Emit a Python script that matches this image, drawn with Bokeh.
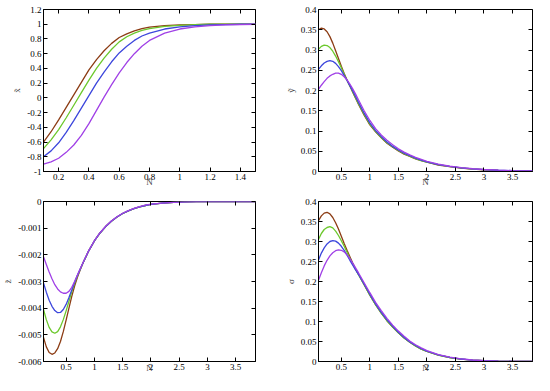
from bokeh.plotting import figure
from bokeh.layouts import gridplot
from bokeh.models import FixedTicker, CustomJSTickFormatter, Range1d, LinearAxis
from bokeh.embed import file_html
from bokeh.resources import INLINE

# ---------------- data ----------------
SERIES_COLORS = ["#8c3c14", "#6cc82c", "#3c46dc", "#a040e6"]

# panel 1 : x~ vs N~
X1 = [0.10, 0.15, 0.20, 0.25, 0.30, 0.35, 0.40, 0.45, 0.50, 0.55, 0.60, 0.65,
      0.70, 0.75, 0.80, 0.90, 1.00, 1.10, 1.20, 1.30, 1.40, 1.50]
X1_A = [-0.60, -0.46, -0.30, -0.13, 0.04, 0.21, 0.38, 0.52, 0.64, 0.74, 0.82, 0.87,
        0.91, 0.94, 0.96, 0.98, 0.99, 0.995, 1.0, 1.0, 1.0, 1.0]
X1_B = [-0.69, -0.57, -0.43, -0.27, -0.10, 0.07, 0.24, 0.40, 0.54, 0.66, 0.76, 0.83,
        0.88, 0.915, 0.94, 0.97, 0.985, 0.995, 1.0, 1.0, 1.0, 1.0]
X1_C = [-0.80, -0.72, -0.61, -0.47, -0.31, -0.14, 0.03, 0.20, 0.35, 0.49, 0.61, 0.70,
        0.78, 0.84, 0.88, 0.935, 0.965, 0.98, 0.99, 0.995, 1.0, 1.0]
X1_D = [-0.90, -0.87, -0.82, -0.74, -0.64, -0.51, -0.35, -0.17, 0.01, 0.18, 0.34, 0.48,
        0.60, 0.70, 0.78, 0.88, 0.935, 0.965, 0.98, 0.99, 0.995, 1.0]

# shared N~ grid for panels 2-4
XG = [0.10, 0.15, 0.20, 0.25, 0.30, 0.35, 0.40, 0.45, 0.50, 0.55, 0.60, 0.65, 0.70,
      0.75, 0.80, 0.90, 1.00, 1.10, 1.20, 1.30, 1.40, 1.50, 1.60, 1.70, 1.80, 1.90,
      2.00, 2.20, 2.40, 2.60, 2.80, 3.00, 3.25, 3.50, 3.85]

# panel 2 : y~
Y_A = [0.350, 0.354, 0.352, 0.345, 0.333, 0.317, 0.298, 0.279, 0.260, 0.242, 0.226, 0.211,
       0.196, 0.181, 0.166, 0.139, 0.115, 0.098, 0.083, 0.070, 0.060, 0.051, 0.043, 0.037,
       0.031, 0.027, 0.023, 0.016, 0.012, 0.0085, 0.006, 0.0043, 0.0029, 0.0019, 0.0011]
Y_B = [0.302, 0.309, 0.312, 0.311, 0.306, 0.297, 0.285, 0.271, 0.256, 0.240, 0.225, 0.211,
       0.197, 0.182, 0.168, 0.141, 0.117, 0.099, 0.084, 0.071, 0.061, 0.052, 0.044, 0.038,
       0.032, 0.027, 0.023, 0.017, 0.012, 0.0087, 0.0062, 0.0044, 0.0030, 0.0020, 0.0011]
Y_C = [0.252, 0.261, 0.268, 0.272, 0.274, 0.272, 0.267, 0.259, 0.249, 0.237, 0.225, 0.212,
       0.199, 0.185, 0.171, 0.144, 0.120, 0.101, 0.086, 0.073, 0.062, 0.053, 0.045, 0.039,
       0.033, 0.028, 0.024, 0.017, 0.0125, 0.009, 0.0065, 0.0046, 0.0031, 0.0021, 0.0012]
Y_D = [0.203, 0.213, 0.222, 0.230, 0.236, 0.240, 0.243, 0.243, 0.240, 0.234, 0.226, 0.216,
       0.204, 0.191, 0.177, 0.150, 0.126, 0.106, 0.090, 0.077, 0.066, 0.056, 0.048, 0.041,
       0.035, 0.030, 0.025, 0.018, 0.013, 0.0095, 0.0068, 0.0049, 0.0033, 0.0022, 0.0013]

# panel 3 : z~
Z_A = [-0.00510, -0.00545, -0.00566, -0.00573, -0.00568, -0.00552, -0.00525, -0.00488,
       -0.00445, -0.00400, -0.00356, -0.00317, -0.00284, -0.00256, -0.00230, -0.00185,
       -0.00148, -0.00118, -0.00094, -0.00074, -0.00058, -0.00045, -0.00035, -0.00027,
       -0.00020, -0.00015, -0.00011, -0.00006, -0.00003, -0.000015, -0.000007, -0.000003,
       -0.000001, 0.0, 0.0]
Z_B = [-0.00405, -0.00443, -0.00472, -0.00489, -0.00494, -0.00488, -0.00470, -0.00443,
       -0.00410, -0.00374, -0.00339, -0.00307, -0.00279, -0.00254, -0.00230, -0.00185,
       -0.00148, -0.00118, -0.00094, -0.00074, -0.00058, -0.00045, -0.00035, -0.00027,
       -0.00020, -0.00015, -0.00011, -0.00006, -0.00003, -0.000015, -0.000007, -0.000003,
       -0.000001, 0.0, 0.0]
Z_C = [-0.00305, -0.00340, -0.00370, -0.00393, -0.00409, -0.00417, -0.00416, -0.00405,
       -0.00386, -0.00360, -0.00332, -0.00303, -0.00277, -0.00253, -0.00230, -0.00185,
       -0.00148, -0.00118, -0.00094, -0.00074, -0.00058, -0.00045, -0.00035, -0.00027,
       -0.00020, -0.00015, -0.00011, -0.00006, -0.00003, -0.000015, -0.000007, -0.000003,
       -0.000001, 0.0, 0.0]
Z_D = [-0.00207, -0.00236, -0.00264, -0.00290, -0.00312, -0.00328, -0.00339, -0.00344,
       -0.00344, -0.00337, -0.00322, -0.00300, -0.00276, -0.00252, -0.00229, -0.00184,
       -0.00147, -0.00117, -0.00093, -0.00073, -0.00057, -0.00044, -0.00034, -0.00026,
       -0.00019, -0.00014, -0.00010, -0.00006, -0.00003, -0.000015, -0.000007, -0.000003,
       -0.000001, 0.0, 0.0]

# panel 4 : sigma
S_A = [0.352, 0.364, 0.371, 0.373, 0.369, 0.360, 0.347, 0.331, 0.313, 0.295, 0.278, 0.262,
       0.246, 0.231, 0.218, 0.192, 0.166, 0.142, 0.121, 0.102, 0.086, 0.072, 0.059, 0.048,
       0.039, 0.031, 0.025, 0.016, 0.010, 0.006, 0.0035, 0.002, 0.001, 0.0004, 0.0001]
S_B = [0.305, 0.320, 0.330, 0.335, 0.337, 0.334, 0.326, 0.315, 0.302, 0.288, 0.273, 0.258,
       0.244, 0.230, 0.217, 0.192, 0.166, 0.142, 0.121, 0.102, 0.086, 0.072, 0.059, 0.048,
       0.039, 0.031, 0.025, 0.016, 0.010, 0.006, 0.0035, 0.002, 0.001, 0.0004, 0.0001]
S_C = [0.254, 0.271, 0.284, 0.294, 0.300, 0.302, 0.301, 0.296, 0.288, 0.278, 0.266, 0.253,
       0.241, 0.229, 0.218, 0.193, 0.168, 0.144, 0.123, 0.104, 0.088, 0.073, 0.060, 0.049,
       0.040, 0.032, 0.026, 0.0165, 0.0103, 0.0062, 0.0036, 0.002, 0.001, 0.0004, 0.0001]
S_D = [0.203, 0.222, 0.239, 0.253, 0.264, 0.272, 0.277, 0.279, 0.278, 0.274, 0.267, 0.257,
       0.246, 0.234, 0.222, 0.197, 0.172, 0.148, 0.127, 0.108, 0.091, 0.076, 0.063, 0.051,
       0.042, 0.034, 0.027, 0.017, 0.0107, 0.0065, 0.0038, 0.0021, 0.001, 0.0004, 0.0001]

# tick positions
X1_TICKS = [0.2, 0.4, 0.6, 0.8, 1.0, 1.2, 1.4]
Y1_TICKS = [-1.0, -0.8, -0.6, -0.4, -0.2, 0.0, 0.2, 0.4, 0.6, 0.8, 1.0, 1.2]
XG_TICKS = [0.5, 1.0, 1.5, 2.0, 2.5, 3.0, 3.5]
YS_TICKS = [0.0, 0.05, 0.1, 0.15, 0.2, 0.25, 0.3, 0.35, 0.4]
Z_TICKS = [-0.006, -0.005, -0.004, -0.003, -0.002, -0.001, 0.0]

X_LABEL = "N\u0303"
Y_LABELS = ["x\u0303", "y\u0303", "z\u0303", "\u03c3"]

FONT = "Liberation Serif"
FMT = "var v = parseFloat(tick.toFixed(4)); return String(v);"


def panel(x, ys, xr, yr, xt, yt, ylabel, width, height, mb, xl_standoff):
    p = figure(width=width, height=height, x_range=Range1d(*xr), y_range=Range1d(*yr),
               output_backend="svg", toolbar_location=None,
               min_border_left=mb[0], min_border_right=mb[1],
               min_border_top=mb[2], min_border_bottom=mb[3])
    for yv, c in zip(ys, SERIES_COLORS):
        p.line(x, yv, line_color=c, line_width=1.3)
    p.xgrid.visible = False
    p.ygrid.visible = False
    p.outline_line_color = "black"
    p.outline_line_width = 1
    p.background_fill_color = "white"
    p.border_fill_color = "white"
    for ax, ticks in ((p.xaxis[0], xt), (p.yaxis[0], yt)):
        ax.ticker = FixedTicker(ticks=ticks)
        ax.formatter = CustomJSTickFormatter(code=FMT)
        ax.major_tick_in = 4
        ax.major_tick_out = 0
        ax.minor_tick_line_color = None
        ax.major_label_text_font = FONT
        ax.major_label_text_font_size = "9px"
        ax.major_label_text_color = "black"
        ax.axis_label_text_font = FONT
        ax.axis_label_text_font_size = "9px"
        ax.axis_label_text_font_style = "normal"
        ax.axis_line_color = "black"
        ax.major_label_standoff = 2
    p.xaxis[0].axis_label = X_LABEL
    p.xaxis[0].axis_label_standoff = xl_standoff
    p.yaxis[0].axis_label = ylabel
    p.yaxis[0].axis_label_standoff = 2
    # mirrored inward ticks on the top and right edges (gnuplot style)
    for loc, ticks in (("above", xt), ("right", yt)):
        ax = LinearAxis(ticker=FixedTicker(ticks=ticks),
                        formatter=CustomJSTickFormatter(code="return '';"),
                        major_tick_in=4, major_tick_out=0,
                        minor_tick_line_color=None, axis_line_color=None,
                        major_label_standoff=0, major_label_text_font_size="0px")
        p.add_layout(ax, loc)
    return p


p1 = panel(X1, [X1_A, X1_B, X1_C, X1_D], (0.1, 1.5), (-1.0, 1.2), X1_TICKS, Y1_TICKS,
           Y_LABELS[0], 271, 190, (33, 16, 9, 19), -6)
p2 = panel(XG, [Y_A, Y_B, Y_C, Y_D], (0.1, 3.85), (0.0, 0.4), XG_TICKS, YS_TICKS,
           Y_LABELS[1], 263, 190, (47, 2, 9, 19), -6)
p3 = panel(XG, [Z_A, Z_B, Z_C, Z_D], (0.1, 3.85), (-0.006, 0.0), XG_TICKS, Z_TICKS,
           Y_LABELS[2], 271, 185, (43, 14, 11, 14), -10)
p4 = panel(XG, [S_A, S_B, S_C, S_D], (0.1, 3.85), (0.0, 0.4), XG_TICKS, YS_TICKS,
           Y_LABELS[3], 263, 185, (47, 2, 11, 14), -10)

grid = gridplot([[p1, p2], [p3, p4]], toolbar_location=None)

open("out.html", "w").write(file_html(grid, INLINE))
